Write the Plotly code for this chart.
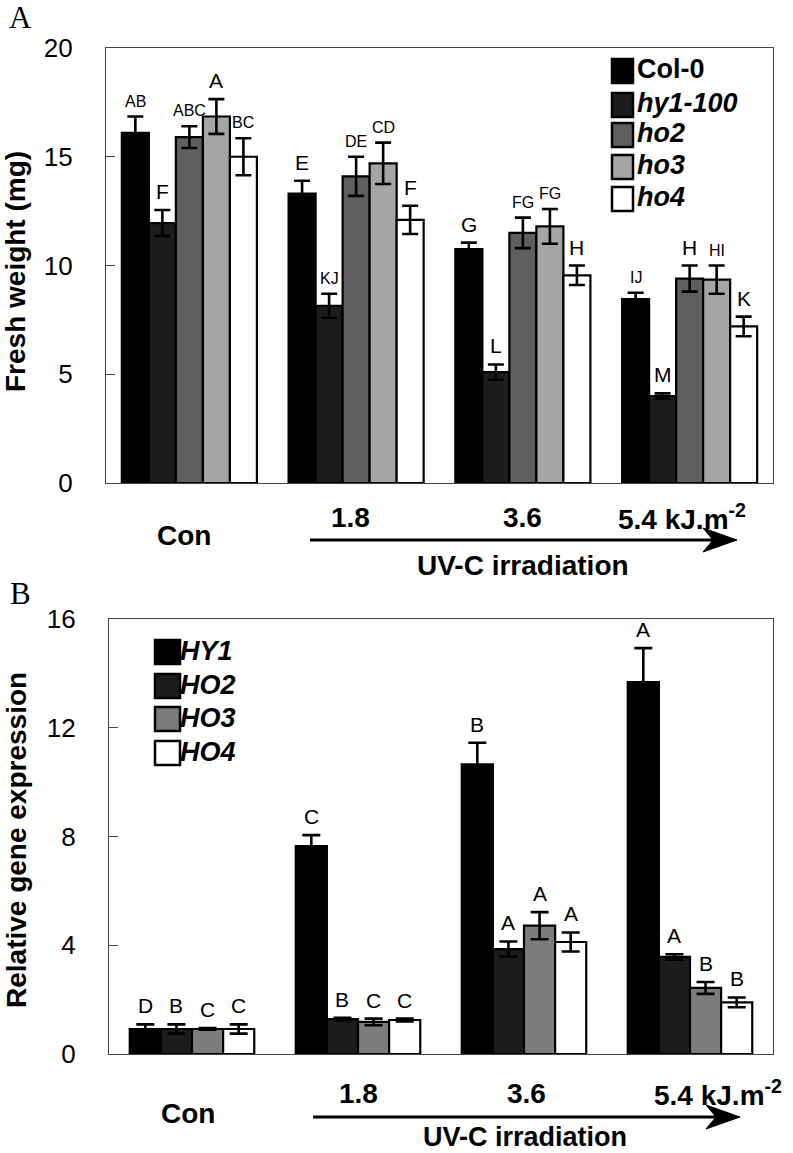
import plotly.graph_objects as go

W, H = 793, 1153

# ---------------- data ----------------
groups = ["Con", "1.8", "3.6", "5.4"]

# Panel A: fresh weight (mg)
a_names = ["Col-0", "hy1-100", "ho2", "ho3", "ho4"]
a_legend = ["<b>Col-0</b>", "<b><i>hy1-100</i></b>", "<b><i>ho2</i></b>", "<b><i>ho3</i></b>", "<b><i>ho4</i></b>"]
col0 = [16.1, 13.3, 10.75, 8.45]
col0_err = [0.75, 0.6, 0.3, 0.3]
hy1 = [11.95, 8.15, 5.1, 4.0]
hy1_err = [0.6, 0.55, 0.35, 0.12]
ho2 = [15.9, 14.1, 11.5, 9.4]
ho2_err = [0.5, 0.9, 0.7, 0.6]
ho3 = [16.85, 14.7, 11.8, 9.35]
ho3_err = [0.8, 0.95, 0.8, 0.65]
ho4 = [15.0, 12.1, 9.55, 7.2]
ho4_err = [0.85, 0.65, 0.45, 0.45]
a_letters = [
    ["AB", "E", "G", "IJ"],
    ["F", "KJ", "L", "M"],
    ["ABC", "DE", "FG", "H"],
    ["A", "CD", "FG", "HI"],
    ["BC", "F", "H", "K"],
]
a_colors = ["#000000", "#1c1c1c", "#5f5f5f", "#a5a5a5", "#ffffff"]

# Panel B: relative gene expression
b_names = ["HY1", "HO2", "HO3", "HO4"]
b_legend = ["<b><i>HY1</i></b>", "<b><i>HO2</i></b>", "<b><i>HO3</i></b>", "<b><i>HO4</i></b>"]
HY1 = [0.92, 7.65, 10.65, 13.68]
HY1_err = [0.17, 0.4, 0.8, 1.25]
HO2 = [0.92, 1.28, 3.86, 3.57]
HO2_err = [0.17, 0.05, 0.28, 0.1]
HO3 = [0.92, 1.18, 4.72, 2.43]
HO3_err = [0.03, 0.12, 0.5, 0.22]
HO4 = [0.92, 1.25, 4.12, 1.9]
HO4_err = [0.17, 0.05, 0.35, 0.18]
b_letters = [
    ["D", "C", "B", "A"],
    ["B", "B", "A", "A"],
    ["C", "C", "A", "B"],
    ["C", "C", "A", "B"],
]
b_colors = ["#000000", "#1c1c1c", "#7c7c7c", "#ffffff"]

a_ticks = [0, 5, 10, 15, 20]
b_ticks = [0, 4, 8, 12, 16]

# ---------------- helpers ----------------
def X(px):
    return px / W

def Y(py):
    return 1 - py / H

SANS = "Liberation Sans, Arial, sans-serif"
SERIF = "Liberation Serif, Times New Roman, serif"

fig = go.Figure()

A_GAP = 0.19
B_GAP = 0.25
xpos = list(range(len(groups)))

a_vals = [col0, hy1, ho2, ho3, ho4]
a_errs = [col0_err, hy1_err, ho2_err, ho3_err, ho4_err]
a_w = (1 - A_GAP) / len(a_names)
for k, (name, v, e, c) in enumerate(zip(a_names, a_vals, a_errs, a_colors)):
    fig.add_trace(go.Bar(
        x=xpos, y=v, name=name, xaxis="x", yaxis="y",
        width=a_w, offset=-(1 - A_GAP) / 2 + a_w * k,
        marker=dict(color=c, line=dict(color="black", width=2.2)),
        error_y=dict(type="data", array=e, symmetric=True, color="black", thickness=2.6, width=8),
        showlegend=False,
    ))

b_vals = [HY1, HO2, HO3, HO4]
b_errs = [HY1_err, HO2_err, HO3_err, HO4_err]
b_w = (1 - B_GAP) / len(b_names)
for k, (name, v, e, c) in enumerate(zip(b_names, b_vals, b_errs, b_colors)):
    fig.add_trace(go.Bar(
        x=xpos, y=v, name=name, xaxis="x2", yaxis="y2",
        width=b_w, offset=-(1 - B_GAP) / 2 + b_w * k,
        marker=dict(color=c, line=dict(color="black", width=2.2)),
        error_y=dict(type="data", array=e, symmetric=True, color="black", thickness=2.6, width=9),
        showlegend=False,
    ))

annotations = []
shapes = []

# letters above bars (positions computed from group layout)
def add_letters(vals, errs, letters, gap, xref, yref):
    n = len(vals)
    bw = (1 - gap) / n
    for j in range(n):
        for i in range(len(groups)):
            t = letters[j][i]
            xo = i - (1 - gap) / 2 + bw * (j + 0.5)
            size = 21 if len(t) == 1 else 16
            annotations.append(dict(
                x=xo, y=vals[j][i] + errs[j][i], xref=xref, yref=yref,
                text=t, showarrow=False, yanchor="bottom", xanchor="center",
                yshift=5, font=dict(family=SANS, size=size, color="black")))

add_letters(a_vals, a_errs, a_letters, A_GAP, "x", "y")
add_letters(b_vals, b_errs, b_letters, B_GAP, "x2", "y2")

def txt(x, y, t, size=28, anchor="center", family=SANS, angle=0):
    annotations.append(dict(x=X(x), y=Y(y), xref="paper", yref="paper", text=t,
                            showarrow=False, xanchor=anchor, yanchor="middle",
                            textangle=angle,
                            font=dict(family=family, size=size, color="black")))

def arrow(x0, x1, y):
    shapes.append(dict(type="line", xref="paper", yref="paper",
                       x0=X(x0), x1=X(x1 - 8), y0=Y(y), y1=Y(y),
                       line=dict(color="black", width=3)))
    path = "M {} {} L {} {} L {} {} L {} {} Z".format(
        X(x1), Y(y), X(x1 - 34), Y(y - 12), X(x1 - 24), Y(y), X(x1 - 34), Y(y + 12))
    shapes.append(dict(type="path", xref="paper", yref="paper", path=path,
                       fillcolor="black", line=dict(color="black", width=1)))

# panel labels
txt(20, 18, "A", size=31, family=SERIF)
txt(20, 593, "B", size=31, family=SERIF)

# y titles
txt(16, 272, "<b>Fresh weight (mg)</b>", size=28, angle=-90)
txt(16, 840, "<b>Relative gene expression</b>", size=28, angle=-90)

# x labels panel A
txt(184, 535, "<b>Con</b>")
txt(350, 517, "<b>1.8</b>")
txt(522, 517, "<b>3.6</b>")
txt(616, 517, "<b>5.4 kJ.m<sup>-2</sup></b>", anchor="left")
arrow(310, 737, 540)
txt(523, 565, "<b>UV-C irradiation</b>")

# x labels panel B
txt(188, 1113, "<b>Con</b>")
txt(358, 1093, "<b>1.8</b>")
txt(526, 1093, "<b>3.6</b>")
txt(652, 1093, "<b>5.4 kJ.m<sup>-2</sup></b>", anchor="left")
arrow(313, 740, 1117)
txt(525, 1137, "<b>UV-C irradiation</b>", size=27)

# legends (manual swatches)
a_rows = [71, 105, 135, 167, 199]
for lab, c, yc in zip(a_legend, a_colors, a_rows):
    shapes.append(dict(type="rect", xref="paper", yref="paper",
                       x0=X(612), x1=X(633), y0=Y(yc - 12), y1=Y(yc + 12),
                       fillcolor=c, line=dict(color="black", width=2.5)))
    txt(635, yc - 2, lab, size=27, anchor="left")

b_rows = [652, 686, 719, 753]
for lab, c, yc in zip(b_legend, b_colors, b_rows):
    shapes.append(dict(type="rect", xref="paper", yref="paper",
                       x0=X(155), x1=X(180), y0=Y(yc - 12), y1=Y(yc + 12),
                       fillcolor=c, line=dict(color="black", width=2.5)))
    txt(178, yc - 1, lab, size=27, anchor="left")

axis_common = dict(showline=True, mirror=True, linecolor="#444444", linewidth=1.2,
                   showgrid=False, zeroline=False, automargin=False)

fig.update_layout(
    template="none",
    width=W, height=H, autosize=False,
    margin=dict(l=0, r=0, t=0, b=0, pad=0),
    paper_bgcolor="white", plot_bgcolor="white",
    barmode="overlay",
    xaxis=dict(domain=[X(106), X(773)], range=[-0.5, 3.5], showticklabels=False,
               ticks="", anchor="y", **axis_common),
    yaxis=dict(domain=[Y(483), Y(48)], range=[0, 20], tickvals=a_ticks,
               ticks="inside", ticklen=9, tickcolor="#444444", anchor="x",
               ticklabelstandoff=27,
               tickfont=dict(family=SANS, size=26, color="black"), **axis_common),
    xaxis2=dict(domain=[X(109), X(773)], range=[-0.5, 3.5], showticklabels=False,
                ticks="", anchor="y2", **axis_common),
    yaxis2=dict(domain=[Y(1054), Y(619)], range=[0, 16], tickvals=b_ticks,
                ticks="inside", ticklen=9, tickcolor="#444444", anchor="x2",
                ticklabelstandoff=27,
                tickfont=dict(family=SANS, size=26, color="black"), **axis_common),
    annotations=annotations,
    shapes=shapes,
)

fig.write_html("out.html", config={"displayModeBar": False},
               post_script="document.body.style.margin='0';document.body.style.overflow='hidden';")
